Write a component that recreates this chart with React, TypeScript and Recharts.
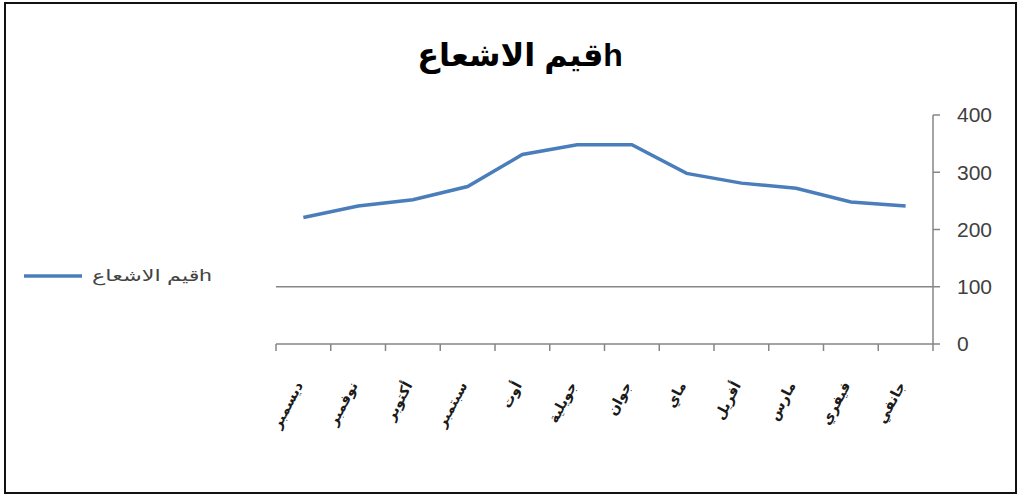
import { LineChart, Line, XAxis, YAxis, ReferenceLine } from "recharts";

// monthly radiation values, Jan -> Dec (axis is drawn right-to-left)
const months = [
  "جانفي",
  "فيفري",
  "مارس",
  "أفريل",
  "ماي",
  "جوان",
  "جويلية",
  "أوت",
  "سبتمبر",
  "أكتوبر",
  "نوفمبر",
  "ديسمبر",
];
const radiation = [241, 248, 272, 281, 298, 348, 348, 331, 275, 252, 241, 221];
const yTicks = [0, 100, 200, 300, 400];
const edgeTicks = [0, 1, 2, 3, 4, 5, 6, 7, 8, 9, 10, 11, 12];
const seriesName = "قيم الاشعاعh";
const chartTitle = "قيم الاشعاعh";

const data = months.map((month, i) => ({ month, value: radiation[i], slot: i + 0.5 }));

const FONT = "'Liberation Sans', Arial, 'DejaVu Sans', sans-serif";
const AXIS = "#868686";
const BLUE = "#4a7ebb";

const MonthTick = ({ x, y, payload }: any) => (
  <g transform={`translate(${x},${y + 40})`}>
    <text
      textAnchor="end"
      transform="rotate(-62)"
      fontSize={14}
      fontWeight="bold"
      fill="#1a1a1a"
      fontFamily={FONT}
    >
      {payload.value}
    </text>
  </g>
);

export default function App() {
  return (
    <div style={{ position: "absolute", left: 0, top: 0, width: 1021, height: 497, background: "#fff" }}>
      <div
        style={{
          position: "absolute",
          left: 4,
          top: 2,
          width: 1013,
          height: 492,
          border: "2px solid #111",
          boxSizing: "border-box",
        }}
      />
      <div
        style={{
          position: "absolute",
          left: 320,
          top: 36,
          width: 400,
          textAlign: "center",
          fontFamily: FONT,
          fontWeight: "bold",
          fontSize: 32,
          color: "#000",
        }}
      >
        {chartTitle}
      </div>
      {/* legend */}
      <div
        style={{
          position: "absolute",
          left: 22,
          top: 266,
          display: "flex",
          alignItems: "center",
          fontFamily: FONT,
        }}
      >
        <svg width={66} height={10}>
          <line x1={2} y1={5} x2={60} y2={5} stroke={BLUE} strokeWidth={3.5} />
        </svg>
        <span
          style={{
            display: "inline-block",
            fontSize: 16,
            color: "#444",
            marginLeft: 4,
            transform: "scaleX(1.4)",
            transformOrigin: "left center",
          }}
        >
          {seriesName}
        </span>
      </div>
      <LineChart
        width={1021}
        height={497}
        data={data}
        margin={{ top: 115, right: 28, bottom: 53, left: 276 }}
        style={{ position: "absolute", left: 0, top: 0 }}
      >
        {/* boundary tick marks between month bands */}
        <XAxis
          xAxisId="edges"
          type="number"
          dataKey="slot"
          domain={[0, 12]}
          ticks={edgeTicks}
          tickFormatter={() => ""}
          height={1}
          tickSize={7}
          axisLine={{ stroke: AXIS, strokeWidth: 1.5 }}
          tickLine={{ stroke: AXIS, strokeWidth: 1.5 }}
        />
        <XAxis
          xAxisId="month"
          dataKey="month"
          scale="band"
          reversed
          axisLine={false}
          tickLine={false}
          tickSize={0}
          tickMargin={0}
          interval={0}
          height={99}
          tick={<MonthTick />}
        />
        <YAxis
          orientation="right"
          width={60}
          domain={[0, 400]}
          ticks={yTicks}
          tickSize={7}
          tickMargin={17}
          axisLine={{ stroke: AXIS, strokeWidth: 1.5 }}
          tickLine={{ stroke: AXIS, strokeWidth: 1.5 }}
          tick={{ fill: "#404040", fontSize: 21, fontFamily: FONT }}
        />
        <ReferenceLine xAxisId="month" y={100} stroke={AXIS} strokeWidth={1.5} />
        <Line
          xAxisId="month"
          type="linear"
          dataKey="value"
          name={seriesName}
          stroke={BLUE}
          strokeWidth={3.5}
          dot={false}
          isAnimationActive={false}
        />
      </LineChart>
    </div>
  );
}
